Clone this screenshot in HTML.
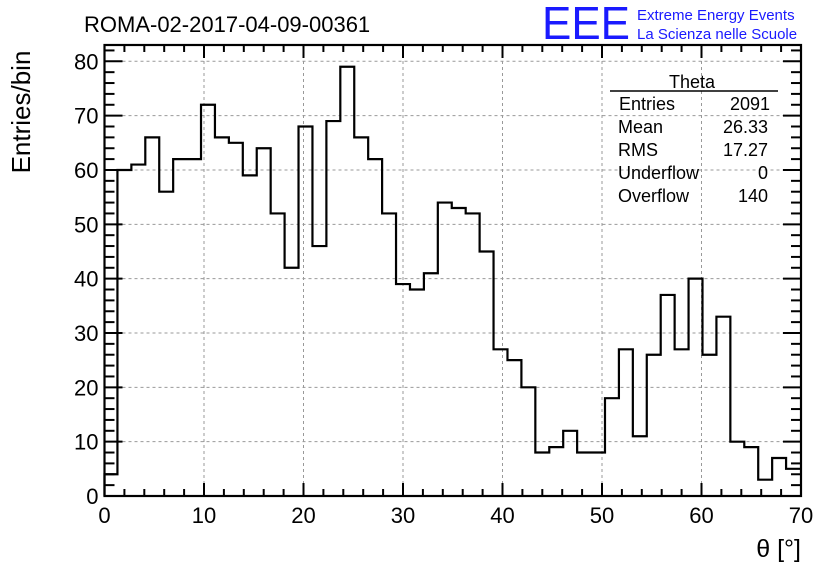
<!DOCTYPE html>
<html><head><meta charset="utf-8"><style>
body{margin:0;background:#fff;font-family:"Liberation Sans",sans-serif}
svg text{font-family:"Liberation Sans",sans-serif}
</style></head><body>
<svg id="c" width="836" height="572" viewBox="0 0 836 572">
<text x="84" y="32" font-size="22">ROMA-02-2017-04-09-00361</text>
<g>
<text x="542" y="39" font-size="46" fill="#1a1aff" textLength="88" lengthAdjust="spacingAndGlyphs">EEE</text>
<text x="637" y="20" font-size="15" fill="#1a1aff">Extreme Energy Events</text>
<text x="637" y="39" font-size="15" fill="#1a1aff">La Scienza nelle Scuole</text>
</g>
<text transform="translate(30,112) rotate(-90)" font-size="26" text-anchor="middle">Entries/bin</text>
<text x="801" y="557" font-size="25" text-anchor="end">θ [°]</text>
<g id="grid"></g><g id="axes"></g><path id="hist" fill="none" stroke="#000" stroke-width="2.2"/>
<g font-size="18">
<text x="692" y="88" text-anchor="middle">Theta</text>
<line x1="610" y1="91" x2="778" y2="91" stroke="#000" stroke-width="1.5"/>
<text x="619" y="110">Entries</text><text x="770" y="110" text-anchor="end">2091</text>
<text x="618" y="133">Mean</text><text x="768" y="133" text-anchor="end">26.33</text>
<text x="618" y="156">RMS</text><text x="768" y="156" text-anchor="end">17.27</text>
<text x="618" y="179">Underflow</text><text x="768" y="179" text-anchor="end">0</text>
<text x="618" y="202">Overflow</text><text x="768" y="202" text-anchor="end">140</text>
</g>
</svg>
<script>
const binStart = -0.1;
const binWidth = 1.4;
const counts = [4,60,61,66,56,62,62,72,66,65,59,64,52,42,68,46,69,79,66,62,52,39,38,41,54,53,52,45,27,25,20,8,9,12,8,8,18,27,11,26,37,27,40,26,33,10,9,3,7,5];
const xTicks = [0,10,20,30,40,50,60,70];
const yTicks = [0,10,20,30,40,50,60,70,80];
const X0=104.5,X1=801,Y0=496,Y1=45,XMAX=70,YMAX=83;
const sx=v=>X0+(v/XMAX)*(X1-X0);
const sy=v=>Y0-(v/YMAX)*(Y0-Y1);
const NS='http://www.w3.org/2000/svg';
const grid=document.getElementById('grid'),axes=document.getElementById('axes');
function mk(tag,attrs,parent){const e=document.createElementNS(NS,tag);for(const k in attrs)e.setAttribute(k,attrs[k]);parent.appendChild(e);return e;}
xTicks.forEach(t=>{
 if(t>0&&t<70){const g=mk('line',{x1:sx(t),x2:sx(t),y1:Y0,y2:Y1,stroke:'#999','stroke-dasharray':'3,3','stroke-width':1},grid);
 
 }
 const l=mk('text',{x:sx(t),y:Y0+27,'font-size':22,'text-anchor':'middle'},axes);l.textContent=t;
 
 
});
yTicks.forEach(t=>{
 if(t>0){const g=mk('line',{x1:X0,x2:X1,y1:sy(t),y2:sy(t),stroke:'#999','stroke-dasharray':'3,3','stroke-width':1},grid);
 
 }
 const l=mk('text',{x:X0-6,y:sy(t)+8,'font-size':22,'text-anchor':'end'},axes);l.textContent=t;
 
 
});
for(let v=0;v<=70;v+=2){const L=v%10===0?13:7;
 mk('line',{x1:sx(v),x2:sx(v),y1:Y0,y2:Y0-L,stroke:'#000','stroke-width':2},axes);
 mk('line',{x1:sx(v),x2:sx(v),y1:Y1,y2:Y1+L,stroke:'#000','stroke-width':2},axes);}
for(let v=0;v<=82;v+=2){const L=v%10===0?18:10;
 mk('line',{x1:X0,x2:X0+L,y1:sy(v),y2:sy(v),stroke:'#000','stroke-width':2},axes);
 mk('line',{x1:X1,x2:X1-L,y1:sy(v),y2:sy(v),stroke:'#000','stroke-width':2},axes);}
const fr=mk('rect',{x:X0,y:Y1,width:X1-X0,height:Y0-Y1,fill:'none',stroke:'#000','stroke-width':2.2},axes);


let d='';
counts.forEach((c,i)=>{
 const a=Math.max(0,binStart+i*binWidth),b=Math.min(XMAX,binStart+(i+1)*binWidth);
 d+=(i===0?'M'+sx(a)+','+Y0+' L'+sx(a)+','+sy(c):' L'+sx(a)+','+sy(c))+' L'+sx(b)+','+sy(c);
});
document.getElementById('hist').setAttribute('d',d);
</script>
</body></html>
